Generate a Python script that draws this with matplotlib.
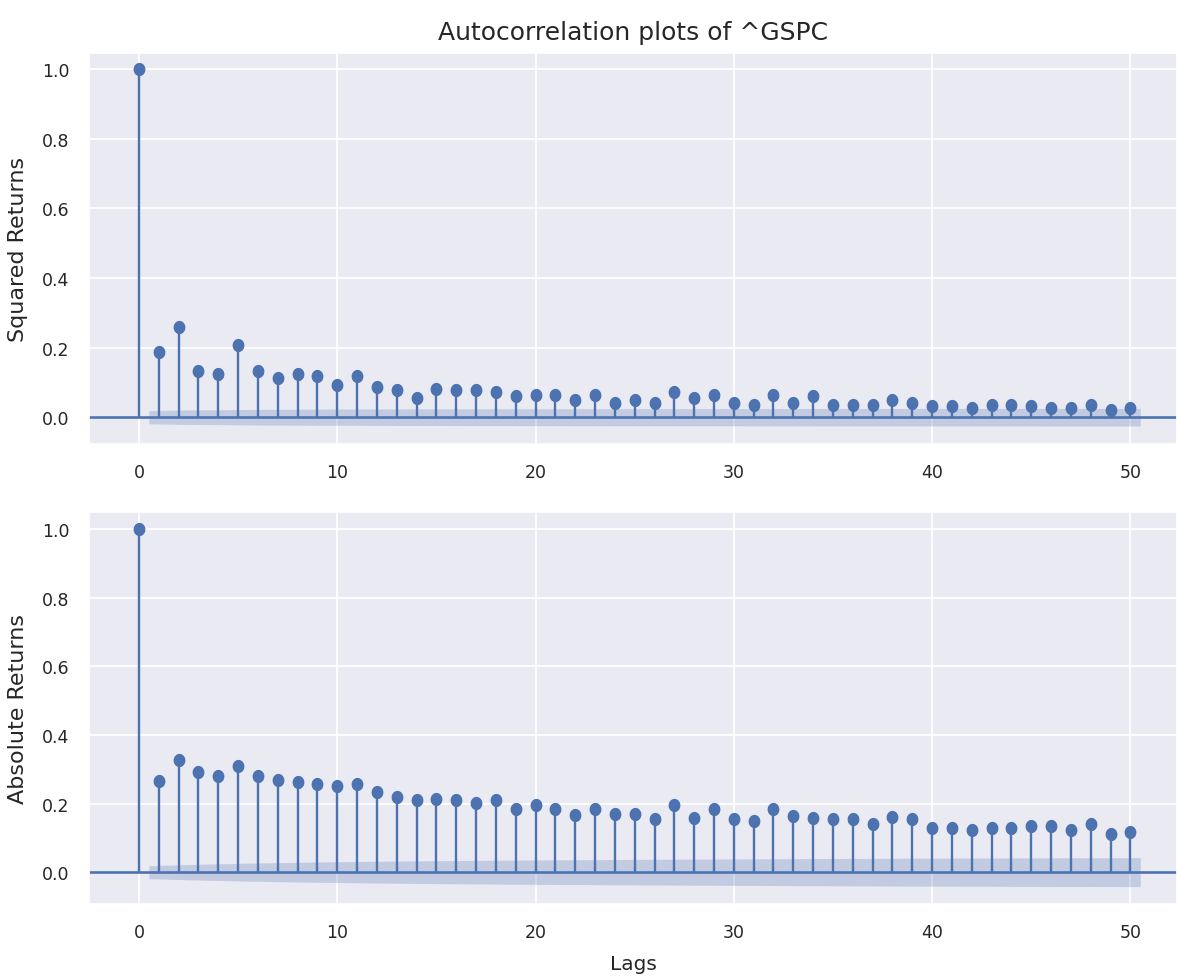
import numpy as np
import matplotlib
matplotlib.use("Agg")
import matplotlib.pyplot as plt
from matplotlib.path import Path
import seaborn as sns

# ACF values (lag 0..50) of squared and absolute daily returns
lags = list(range(51))
acf_squared = [1.0,
               0.188, 0.258, 0.134, 0.123, 0.206, 0.134, 0.112, 0.123, 0.117, 0.093,
               0.117, 0.088, 0.077, 0.055, 0.082, 0.077, 0.077, 0.072, 0.060, 0.065,
               0.065, 0.048, 0.065, 0.042, 0.048, 0.042, 0.072, 0.055, 0.065, 0.042,
               0.036, 0.065, 0.042, 0.060, 0.036, 0.036, 0.036, 0.048, 0.042, 0.031,
               0.031, 0.025, 0.036, 0.036, 0.031, 0.025, 0.025, 0.036, 0.020, 0.025]
acf_absolute = [1.0,
                0.267, 0.328, 0.293, 0.281, 0.310, 0.281, 0.269, 0.263, 0.256, 0.250,
                0.256, 0.233, 0.220, 0.209, 0.214, 0.209, 0.203, 0.209, 0.184, 0.196,
                0.184, 0.166, 0.184, 0.171, 0.171, 0.154, 0.195, 0.159, 0.184, 0.154,
                0.148, 0.184, 0.165, 0.159, 0.154, 0.154, 0.141, 0.160, 0.154, 0.129,
                0.129, 0.123, 0.129, 0.129, 0.135, 0.135, 0.123, 0.141, 0.111, 0.117]
n_obs = 10500  # number of daily observations behind the ACF

panels = [("Squared Returns", acf_squared), ("Absolute Returns", acf_absolute)]


def bartlett_halfwidth(acf, n):
    # 95% band around zero using Bartlett's formula (as in statsmodels plot_acf)
    acf = np.asarray(acf)
    var = np.ones(len(acf)) / n
    var[0] = 0
    var[2:] *= 1 + 2 * np.cumsum(acf[1:-1] ** 2)
    return 1.959964 * np.sqrt(var)


sns.set_theme(style="darkgrid")
plt.rcParams["font.family"] = ["DejaVu Sans"]
blue = sns.color_palette("deep")[0]

# slightly narrow ellipse marker
t = np.linspace(0, 2 * np.pi, 64)
ell = Path(np.column_stack([0.88 * np.cos(t), np.sin(t)]), closed=True)

fig = plt.figure(figsize=(11.77, 9.78), dpi=100)
ax_top = fig.add_axes([0.0756, 0.545, 0.9244, 0.3998])
ax_bot = fig.add_axes([0.0756, 0.0746, 0.9244, 0.4008])

ylims = [(-0.077, 1.046), (-0.093, 1.050)]
for ax, (label, acf), yl in zip([ax_top, ax_bot], panels, ylims):
    x = np.array(lags, dtype=float)
    hw = bartlett_halfwidth(acf, n_obs)
    xb = x[1:].copy()
    xb -= 0.5
    xb[-1] += 1.0
    ax.fill_between(xb, -hw[1:], hw[1:], color=blue, alpha=0.25, lw=0)
    ax.axhline(0, color=blue, lw=1.9, zorder=2)
    ax.vlines(x, 0, acf, color=blue, lw=1.7, zorder=3)
    ax.plot(x, acf, linestyle="None", marker=ell, markersize=8.5, color=blue, zorder=4)
    ax.set_xlim(-2.52, 52.35)
    ax.set_ylim(*yl)
    ax.set_xticks(range(0, 51, 10))
    ax.set_yticks(np.arange(0, 1.01, 0.2))
    ax.tick_params(labelsize=12.5, colors="#262626", pad=8)
    ax.set_ylabel(label, fontsize=16, color="#262626", labelpad=10)
    ax.grid(True, color="white", lw=1.3)

ax_top.set_title("Autocorrelation plots of ^GSPC", fontsize=18, color="#262626", pad=10)
ax_bot.set_xlabel("Lags", fontsize=14.5, color="#262626", labelpad=9)

fig.savefig("out.png", dpi=100)
